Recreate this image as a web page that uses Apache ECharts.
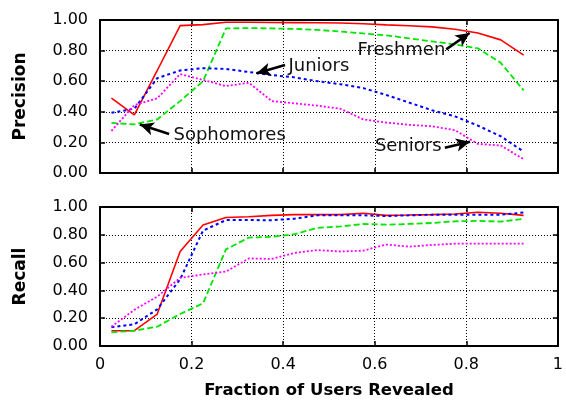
<!DOCTYPE html>
<html>
<head>
<meta charset="utf-8">
<script src="https://cdn.jsdelivr.net/npm/echarts@6/dist/echarts.min.js"></script>
<style>
html,body{margin:0;padding:0;background:#fff;}
#chart{width:566px;height:402px;}
</style>
</head>
<body>
<div id="chart"></div>
<script>
// Fraction of users revealed (x positions of the samples)
const fractions = [0.025,0.075,0.125,0.175,0.225,0.275,0.325,0.375,0.425,0.475,0.525,0.575,0.625,0.675,0.725,0.775,0.825,0.875,0.925];

// Precision
const precFreshmen   = [0.49,0.38,0.67,0.963,0.97,0.985,0.985,0.984,0.983,0.982,0.98,0.975,0.968,0.962,0.955,0.94,0.915,0.87,0.77];
const precSophomores = [0.327,0.318,0.35,0.47,0.60,0.945,0.947,0.945,0.942,0.935,0.925,0.912,0.9,0.88,0.86,0.84,0.815,0.72,0.54];
const precJuniors    = [0.394,0.42,0.62,0.67,0.685,0.68,0.66,0.64,0.625,0.60,0.58,0.555,0.51,0.46,0.41,0.37,0.31,0.24,0.14];
const precSeniors    = [0.275,0.444,0.488,0.647,0.608,0.568,0.59,0.47,0.455,0.44,0.42,0.35,0.33,0.315,0.305,0.28,0.19,0.18,0.09];

// Recall
const recFreshmen    = [0.11,0.11,0.23,0.68,0.87,0.925,0.93,0.94,0.945,0.945,0.945,0.955,0.94,0.942,0.945,0.95,0.962,0.955,0.94];
const recSophomores  = [0.098,0.11,0.139,0.23,0.307,0.695,0.78,0.785,0.805,0.85,0.86,0.878,0.873,0.878,0.885,0.897,0.9,0.895,0.914];
const recJuniors     = [0.135,0.156,0.264,0.48,0.83,0.906,0.906,0.905,0.916,0.94,0.94,0.94,0.935,0.94,0.945,0.945,0.945,0.945,0.96];
const recSeniors     = [0.139,0.26,0.355,0.49,0.515,0.535,0.63,0.626,0.67,0.69,0.68,0.686,0.73,0.715,0.727,0.736,0.736,0.736,0.736];

// Tick labels
const xTickLabels = ['0','0.2','0.4','0.6','0.8','1'];
const yTickLabels = ['0.00','0.20','0.40','0.60','0.80','1.00'];

// Annotations on the precision panel: text centre and arrow (tail -> head), in data units
const annotations = [
  {text:'Juniors',    at:[0.478,0.695], tail:[0.404,0.706], head:[0.342,0.652]},
  {text:'Freshmen',   at:[0.658,0.804], tail:[0.756,0.808], head:[0.807,0.915]},
  {text:'Sophomores', at:[0.283,0.248], tail:[0.151,0.255], head:[0.087,0.317]},
  {text:'Seniors',    at:[0.673,0.172], tail:[0.753,0.165], head:[0.808,0.204]}
];

const FONT = 'DejaVu Sans';
const pair = ys => fractions.map((x,i)=>[x, ys[i]]);

const styles = {
  Freshmen:   {color:'#ff0000', type:'solid', width:1.6},
  Sophomores: {color:'#00e600', type:[6,3], width:1.8},
  Juniors:    {color:'#0000ff', type:[3,3], width:2},
  Seniors:    {color:'#ff00ff', type:[2,2], width:1.8}
};

function mkSeries(name, ys, gi){
  const s = styles[name];
  return {
    name, type:'line', xAxisIndex:gi*2, yAxisIndex:gi*2, data:pair(ys),
    symbol:'none', silent:true,
    lineStyle:{color:s.color, type:s.type, width:s.width},
    z:3
  };
}

function xAxes(gi, showLabel){
  const base = {
    type:'value', gridIndex:gi, min:0, max:1, interval:0.2,
    axisLine:{show:true, onZero:false, lineStyle:{color:'#000', width:2}},
    axisTick:{show:true, inside:true, length:5, lineStyle:{color:'#000', width:1.5}},
    splitLine:{show:false}
  };
  return [
    Object.assign({}, base, {
      position:'bottom',
      axisLabel:{show:showLabel, margin:11, fontFamily:FONT, fontSize:16, color:'#000',
        formatter:(v)=>xTickLabels[Math.round(v/0.2)]},
      splitLine:{show:true, lineStyle:{color:'#000', type:[1,2], width:1}},
      name: showLabel ? 'Fraction of Users Revealed' : '',
      nameLocation:'middle', nameGap:36,
      nameTextStyle:{fontFamily:FONT, fontSize:16.5, fontWeight:'bold', color:'#000'}
    }),
    Object.assign({}, base, {position:'top', axisLabel:{show:false}})
  ];
}

function yAxes(gi, name){
  const base = {
    type:'value', gridIndex:gi, min:0, max:1, interval:0.2,
    axisLine:{show:true, onZero:false, lineStyle:{color:'#000', width:2}},
    axisTick:{show:true, inside:true, length:5, lineStyle:{color:'#000', width:1.5}},
    splitLine:{show:false}
  };
  return [
    Object.assign({}, base, {
      position:'left',
      axisLabel:{show:true, margin:12, fontFamily:FONT, fontSize:16, color:'#000',
        formatter:(v)=>yTickLabels[Math.round(v/0.2)]},
      splitLine:{show:true, lineStyle:{color:'#000', type:[1,2], width:1}},
      name, nameLocation:'middle', nameGap:71,
      nameTextStyle:{fontFamily:FONT, fontSize:17, fontWeight:'bold', color:'#000'}
    }),
    Object.assign({}, base, {position:'right', axisLabel:{show:false}})
  ];
}

const annSeries = {
  type:'line', xAxisIndex:0, yAxisIndex:0, data:[], symbol:'none', silent:true, z:5,
  markLine:{
    silent:true, animation:false,
    symbol:['none','arrow'], symbolSize:[10,14],
    label:{show:false},
    lineStyle:{color:'#000', type:'solid', width:2.5},
    emphasis:{disabled:true},
    data: annotations.map(a=>[{coord:a.tail},{coord:a.head}])
  },
  markPoint:{
    silent:true, animation:false,
    symbol:'circle', symbolSize:0,
    label:{show:true, position:'inside', fontFamily:FONT, fontSize:18, color:'#111',
      formatter:p=>p.name},
    data: annotations.map(a=>({name:a.text, coord:a.at}))
  }
};

const option = {
  animation:false,
  backgroundColor:'#fff',
  grid:[
    {left:100, top:20, width:458, height:153},
    {left:100, top:207, width:458, height:139}
  ],
  xAxis:[...xAxes(0,false), ...xAxes(1,true)],
  yAxis:[...yAxes(0,'Precision'), ...yAxes(1,'Recall')],
  series:[
    mkSeries('Freshmen', precFreshmen, 0),
    mkSeries('Sophomores', precSophomores, 0),
    mkSeries('Juniors', precJuniors, 0),
    mkSeries('Seniors', precSeniors, 0),
    mkSeries('Freshmen', recFreshmen, 1),
    mkSeries('Sophomores', recSophomores, 1),
    mkSeries('Juniors', recJuniors, 1),
    mkSeries('Seniors', recSeniors, 1),
    annSeries
  ]
};

const chart = echarts.init(document.getElementById('chart'), null, {renderer:'canvas'});
chart.setOption(option);
</script>
</body>
</html>
